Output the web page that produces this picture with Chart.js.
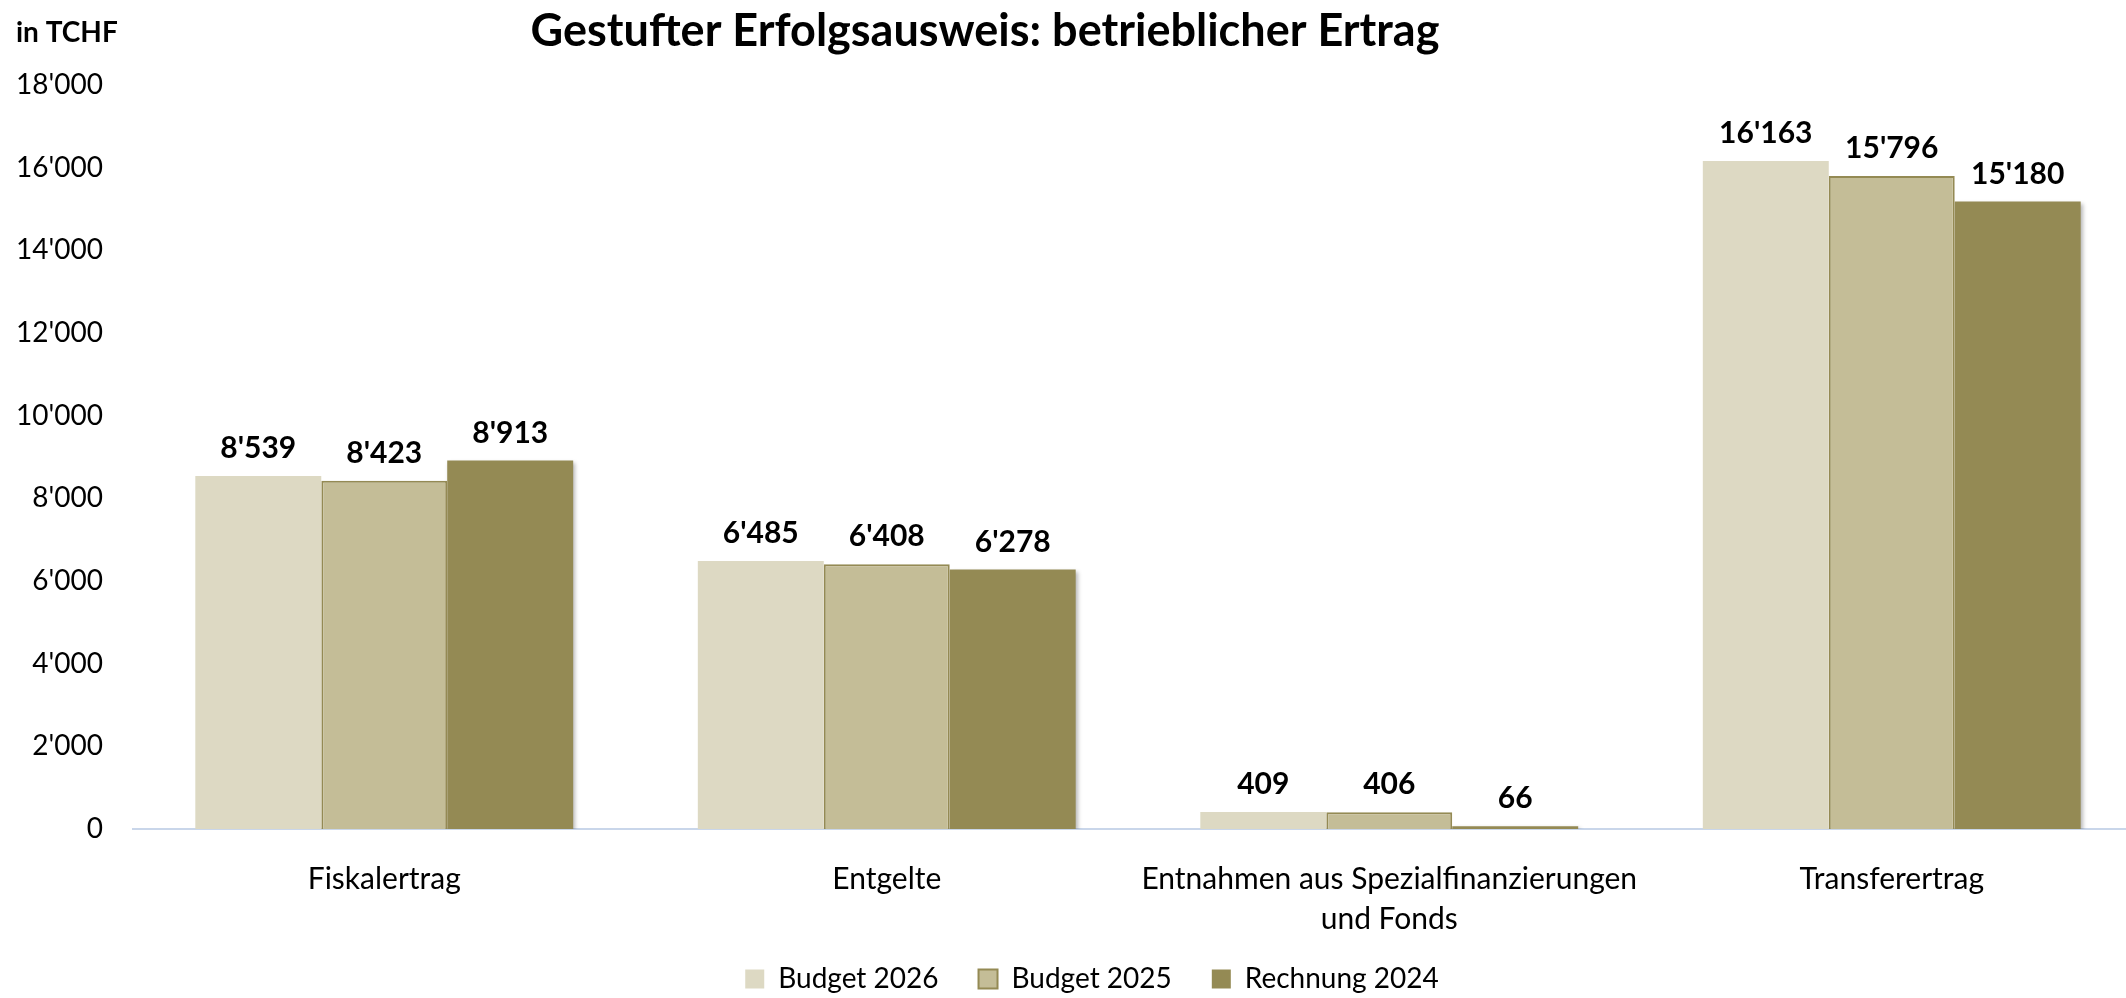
<!DOCTYPE html>
<html>
<head>
<meta charset="utf-8">
<title>Gestufter Erfolgsausweis: betrieblicher Ertrag</title>
<script src="https://cdn.jsdelivr.net/npm/chart.js@4"></script>
<style>
  html, body { margin: 0; padding: 0; background: #ffffff; }
  #wrap { width: 2126px; height: 998px; position: relative; }
</style>
</head>
<body>
<div id="wrap"><canvas id="ertrag-chart"></canvas></div>
<script>
var CATEGORIES = [
  'Fiskalertrag',
  'Entgelte',
  ['Entnahmen aus Spezialfinanzierungen', 'und Fonds'],
  'Transferertrag'
];
var SERIES_NAMES = ['Budget 2026', 'Budget 2025', 'Rechnung 2024'];
var BUDGET_2026 = [8539, 6485, 409, 16163];
var BUDGET_2025 = [8423, 6408, 406, 15796];
var RECHNUNG_2024 = [8913, 6278, 66, 15180];
var Y_TICKS = [0, 2000, 4000, 6000, 8000, 10000, 12000, 14000, 16000, 18000];

var TITLE = 'Gestufter Erfolgsausweis: betrieblicher Ertrag';
var UNIT_LABEL = 'in TCHF';
var FONT = 'Lato, "Open Sans", sans-serif';

var COLORS = ['#ddd9c3', '#c4bd97', '#948a54'];

function swissNumber(n) {
  return String(Math.round(n)).replace(/\B(?=(\d{3})+(?!\d))/g, "'");
}

// titles, value labels and a few layout tweaks
var textPlugin = {
  id: 'ertragText',
  afterLayout: function(chart) {
    var x = chart.scales.x;
    // excel's last category runs a bit past the canvas edge
    x.right += 17;
    x.width += 17;
    x.configure();
    chart.chartArea.right += 17;
    chart.chartArea.width += 17;
    // let the two-line category label run past the axis box
    x.bottom = chart.height;
    // excel centres the legend a bit right of the canvas middle
    chart.legend.left += 29;
    chart.legend.right += 29;
  },
  beforeDatasetDraw: function(chart, args) {
    if (args.index !== 2) return;
    var ctx = chart.ctx;
    ctx.save();
    ctx.shadowColor = 'rgba(0,0,0,0.28)';
    ctx.shadowBlur = 4;
    ctx.shadowOffsetX = 2;
    ctx.shadowOffsetY = 2;
  },
  afterDatasetDraw: function(chart, args) {
    if (args.index !== 2) return;
    chart.ctx.restore();
  },
  afterDraw: function(chart) {
    var ctx = chart.ctx;
    ctx.save();
    ctx.fillStyle = '#000000';
    ctx.textBaseline = 'middle';

    ctx.font = 'bold 45px ' + FONT;
    ctx.textAlign = 'center';
    ctx.fillText(TITLE, 985, 31);

    ctx.font = 'bold 28px ' + FONT;
    ctx.textAlign = 'left';
    ctx.fillText(UNIT_LABEL, 16, 33);

    ctx.font = 'bold 30px ' + FONT;
    ctx.textAlign = 'center';
    ctx.textBaseline = 'alphabetic';
    chart.data.datasets.forEach(function(ds, i) {
      var meta = chart.getDatasetMeta(i);
      meta.data.forEach(function(bar, j) {
        ctx.fillText(swissNumber(ds.data[j]), bar.x, bar.y - 18);
      });
    });
    ctx.restore();
  }
};

function makeDataset(label, data, i) {
  return {
    label: label,
    data: data,
    backgroundColor: COLORS[i],
    borderColor: '#948a54',
    borderWidth: i === 1 ? 2 : 0,
    barPercentage: 1.0,
    categoryPercentage: 0.752
  };
}

var chart = new Chart(document.getElementById('ertrag-chart'), {
  type: 'bar',
  data: {
    labels: CATEGORIES,
    datasets: [
      makeDataset(SERIES_NAMES[0], BUDGET_2026, 0),
      makeDataset(SERIES_NAMES[1], BUDGET_2025, 1),
      makeDataset(SERIES_NAMES[2], RECHNUNG_2024, 2)
    ]
  },
  options: {
    responsive: true,
    maintainAspectRatio: false,
    animation: false,
    layout: { padding: { top: 85, right: 0, bottom: -5, left: 0 } },
    plugins: {
      title: { display: false },
      tooltip: { enabled: false },
      legend: {
        position: 'bottom',
        labels: {
          color: '#000000',
          boxWidth: 19,
          boxHeight: 19,
          padding: 40,
          font: { family: FONT, size: 28 }
        }
      }
    },
    scales: {
      x: {
        grid: { display: false, drawTicks: false },
        border: { display: true, color: '#c9d6ea', width: 2 },
        ticks: {
          color: '#000000',
          padding: 30,
          maxRotation: 0,
          autoSkip: false,
          font: { family: FONT, size: 30, lineHeight: 1.33 }
        },
        afterFit: function(scale) { scale.height = 96; }
      },
      y: {
        min: 0,
        max: 18000,
        grid: { display: false, drawTicks: false },
        border: { display: false },
        afterBuildTicks: function(scale) {
          scale.ticks = Y_TICKS.map(function(v) { return { value: v }; });
        },
        ticks: {
          color: '#000000',
          padding: 30,
          font: { family: FONT, size: 28 },
          callback: function(v) { return swissNumber(v); }
        },
        afterFit: function(scale) { scale.width = 133; }
      }
    }
  },
  plugins: [textPlugin]
});
</script>
</body>
</html>
